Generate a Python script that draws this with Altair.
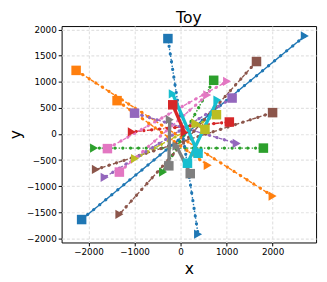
import altair as alt
import pandas as pd

# Trajectories: start point (square) -> end point (right triangle)
start_x = [-2150, -2270, 1800, 1060, -1000, 2000, -1590, -255, 780, 380,
           -275, -1380, 720, -170, 1120, 1650, -1330, 210, 530, 150]
start_y = [-1640, 1220, -270, 230, 400, 410, -280, -610, 370, -370,
           1830, 640, 1030, 560, 690, 1390, -730, -760, 90, -560]
end_x = [2700, 2000, -1880, -1060, 1220, -1840, 1010, -235, -990, -170,
         380, 590, -380, 85, -1650, -1330, 580, -90, 320, 800]
end_y = [1880, -1190, -270, 40, -180, -680, 1010, 275, -470, 770,
         -1920, -600, -730, 30, -830, -1540, 750, -230, 210, 650]

x_ticks = [-2000, -1000, 0, 1000, 2000]
y_ticks = [-2000, -1500, -1000, -500, 0, 500, 1000, 1500, 2000]
title_text = ["Toy"]

# styling (not data)
TAB10 = ["#1f77b4", "#ff7f0e", "#2ca02c", "#d62728", "#9467bd",
         "#8c564b", "#e377c2", "#7f7f7f", "#bcbd22", "#17becf"]
DASHES = {"solid": [1, 0], "dashed": [4, 2], "dotted": [1.5, 2], "dashdot": [5, 2, 1, 2]}
line_style = ["solid", "dashed", "dotted", "dashdot", "dashed", "dashed", "dashed", "solid", "dashed", "solid",
              "dotted", "dashed", "dotted", "solid", "dashed", "dashed", "dashed", "solid", "solid", "solid"]
thick = [False, False, False, False, False, False, False, True, False, True,
         False, False, False, True, False, False, False, True, True, True]

n = len(start_x)
segs = [f"s{i:02d}" for i in range(n)]
rows = []
for i in range(n):
    rows.append(dict(seg=segs[i], pt=0, x=start_x[i], y=start_y[i], thick=thick[i]))
    rows.append(dict(seg=segs[i], pt=1, x=end_x[i], y=end_y[i], thick=thick[i]))
df = pd.DataFrame(rows)

color_scale = alt.Scale(domain=segs, range=[TAB10[i % 10] for i in range(n)])
dash_scale = alt.Scale(domain=segs, range=[DASHES[s] for s in line_style])

xs = alt.Scale(domain=[-2585, 2945], nice=False, zero=False)
ys = alt.Scale(domain=[-2080, 2070], nice=False, zero=False)

X = alt.X("x:Q", scale=xs, title="x",
          axis=alt.Axis(values=x_ticks, format="d", labelFontSize=9, titleFontSize=16,
                        titlePadding=4, tickSize=3.5, labelPadding=2))
Y = alt.Y("y:Q", scale=ys, title="y",
          axis=alt.Axis(values=y_ticks, format="d", labelFontSize=9, titleFontSize=16,
                        titlePadding=3, tickSize=3.5, labelPadding=2))
C = alt.Color("seg:N", scale=color_scale, legend=None)

base = alt.Chart(df)

thin_lines = base.transform_filter("!datum.thick").mark_line(strokeWidth=1.4).encode(
    x=X, y=Y, color=C, detail="seg:N", order="pt:Q",
    strokeDash=alt.StrokeDash("seg:N", scale=dash_scale, legend=None))
dots = base.transform_filter("!datum.thick").mark_line(
    strokeWidth=3.3, strokeDash=[0.01, 8], strokeCap="round").encode(
    x=X, y=Y, color=C, detail="seg:N", order="pt:Q")
thick_lines = base.transform_filter("datum.thick").mark_line(strokeWidth=3.4).encode(
    x=X, y=Y, color=C, detail="seg:N", order="pt:Q")

squares = base.transform_filter("datum.pt == 0").mark_point(
    shape="square", filled=True, size=95, opacity=1).encode(x=X, y=Y, color=C)
tris = base.transform_filter("datum.pt == 1").mark_point(
    shape="triangle-right", filled=True, size=90, opacity=1).encode(x=X, y=Y, color=C)

title = alt.Chart(pd.DataFrame({"t": title_text})).mark_text(
    font="DejaVu Sans", fontSize=16, baseline="alphabetic", align="center", color="#000"
).encode(x=alt.value(130.5), y=alt.value(-3.5), text="t:N")

chart = alt.layer(thin_lines, dots, thick_lines, squares, tris, title).properties(
    width=261, height=222,
    autosize=alt.AutoSizeParams(type="none"),
    padding={"left": 55, "top": 15, "right": 3, "bottom": 37},
).configure_axis(
    labelFont="DejaVu Sans", titleFont="DejaVu Sans", titleFontWeight="normal",
    labelColor="#000", titleColor="#000", tickColor="#000", domain=False,
    gridColor="#e2e2e2", gridDash=[3, 2], gridWidth=1.2,
).configure_view(stroke="#000", strokeWidth=1)

chart.save("out.html", embed_options={"renderer": "svg", "actions": False})
